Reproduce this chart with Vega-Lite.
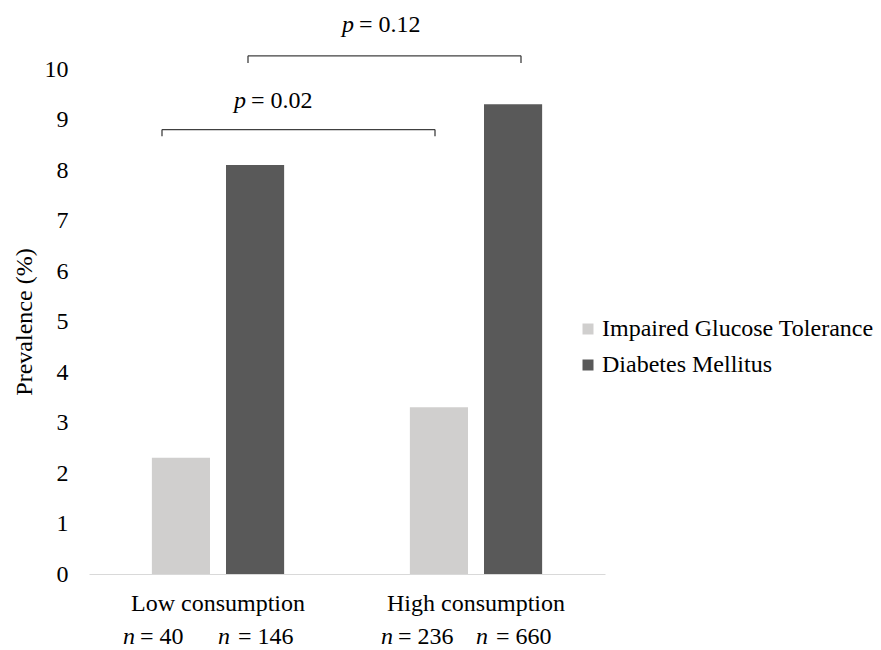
{
  "$schema": "https://vega.github.io/schema/vega-lite/v6.json",
  "autosize": {"type": "none"},
  "padding": {"left": 89, "top": 69, "right": 276, "bottom": 76},
  "width": 516,
  "height": 505,
  "background": "white",
  "config": {
    "view": {"stroke": null},
    "font": "Liberation Serif",
    "text": {"font": "Liberation Serif", "fontSize": 24, "color": "#000000"},
    "axis": {"labelFont": "Liberation Serif", "titleFont": "Liberation Serif", "labelColor": "#000000", "titleColor": "#000000"},
    "legend": {"labelFont": "Liberation Serif"}
  },
  "datasets": {
    "bars": [
      {"group": "Low consumption", "series": "Impaired Glucose Tolerance", "value": 2.3, "n_label": "= 40"},
      {"group": "Low consumption", "series": "Diabetes Mellitus", "value": 8.1, "n_label": "= 146"},
      {"group": "High consumption", "series": "Impaired Glucose Tolerance", "value": 3.3, "n_label": "= 236"},
      {"group": "High consumption", "series": "Diabetes Mellitus", "value": 9.3, "n_label": "= 660"}
    ],
    "brackets": [
      {"id": 1, "from": "Low consumption", "to": "High consumption", "level": 8.8, "tick_end": 8.67, "p_label": "= 0.02", "p_y": 9.23},
      {"id": 2, "from": "Low consumption", "to": "High consumption", "level": 10.26, "tick_end": 10.12, "p_label": "= 0.12", "p_y": 10.74}
    ]
  },
  "encoding": {
    "x": {
      "field": "group", "type": "nominal",
      "scale": {"domain": ["Low consumption", "High consumption"], "paddingInner": 0, "paddingOuter": 0},
      "axis": {"title": null, "labelAngle": 0, "labelFontSize": 24, "labelPadding": 17, "ticks": false, "domainColor": "#d9d9d9", "domainWidth": 1.2, "grid": false}
    }
  },
  "layer": [
    {
      "data": {"name": "bars"},
      "mark": {"type": "bar"},
      "encoding": {
        "xOffset": {"field": "series", "type": "nominal", "scale": {"domain": ["Impaired Glucose Tolerance", "Diabetes Mellitus"], "paddingInner": 0.216, "paddingOuter": 0.848}},
        "y": {
          "field": "value", "type": "quantitative",
          "scale": {"domain": [0, 10], "nice": false},
          "axis": {"title": "Prevalence (%)", "titleFontSize": 24, "titleFontWeight": "normal", "titlePadding": 8, "values": [0,1,2,3,4,5,6,7,8,9,10], "labelFontSize": 24, "labelPadding": 21, "ticks": false, "domain": false, "grid": false}
        },
        "color": {
          "field": "series", "type": "nominal",
          "scale": {"domain": ["Impaired Glucose Tolerance", "Diabetes Mellitus"], "range": ["#d0cfce", "#595959"]},
          "legend": {"title": null, "orient": "none", "legendX": 487, "legendY": 248, "symbolType": "square", "symbolSize": 121, "symbolStrokeWidth": 0, "labelFontSize": 24, "labelColor": "#000000", "labelOffset": 2, "rowPadding": 12, "padding": 0, "labelLimit": 400}
        }
      }
    },
    {
      "data": {"name": "bars"},
      "transform": [{"filter": "datum.series === 'Impaired Glucose Tolerance'"}],
      "mark": {"type": "text", "fontStyle": "italic", "align": "right", "baseline": "alphabetic", "dx": -46},
      "encoding": {
        "xOffset": {"field": "series", "type": "nominal"},
        "y": {"datum": -1.39},
        "text": {"value": "n"}
      }
    },
    {
      "data": {"name": "bars"},
      "transform": [{"filter": "datum.series === 'Impaired Glucose Tolerance'"}],
      "mark": {"type": "text", "align": "left", "baseline": "alphabetic", "dx": -41},
      "encoding": {
        "xOffset": {"field": "series", "type": "nominal"},
        "y": {"datum": -1.39},
        "text": {"field": "n_label"}
      }
    },
    {
      "data": {"name": "bars"},
      "transform": [{"filter": "datum.series === 'Diabetes Mellitus'"}],
      "mark": {"type": "text", "fontStyle": "italic", "align": "right", "baseline": "alphabetic", "dx": -25},
      "encoding": {
        "xOffset": {"field": "series", "type": "nominal"},
        "y": {"datum": -1.39},
        "text": {"value": "n"}
      }
    },
    {
      "data": {"name": "bars"},
      "transform": [{"filter": "datum.series === 'Diabetes Mellitus'"}],
      "mark": {"type": "text", "align": "left", "baseline": "alphabetic", "dx": -17},
      "encoding": {
        "xOffset": {"field": "series", "type": "nominal"},
        "y": {"datum": -1.39},
        "text": {"field": "n_label"}
      }
    },
    {
      "data": {"name": "brackets"},
      "transform": [{"filter": "datum.id === 1"}],
      "mark": {"type": "rule", "color": "#404040", "strokeWidth": 1.3, "xOffset": -56, "x2Offset": -41},
      "encoding": {"x": {"field": "from", "type": "nominal"}, "x2": {"field": "to"}, "y": {"field": "level", "type": "quantitative"}}
    },
    {
      "data": {"name": "brackets"},
      "transform": [{"filter": "datum.id === 1"}],
      "mark": {"type": "rule", "color": "#404040", "strokeWidth": 1.3, "xOffset": -56},
      "encoding": {"x": {"field": "from", "type": "nominal"}, "y": {"field": "level", "type": "quantitative"}, "y2": {"field": "tick_end"}}
    },
    {
      "data": {"name": "brackets"},
      "transform": [{"filter": "datum.id === 1"}],
      "mark": {"type": "rule", "color": "#404040", "strokeWidth": 1.3, "xOffset": -41},
      "encoding": {"x": {"field": "to", "type": "nominal"}, "y": {"field": "level", "type": "quantitative"}, "y2": {"field": "tick_end"}}
    },
    {
      "data": {"name": "brackets"},
      "transform": [{"filter": "datum.id === 2"}],
      "mark": {"type": "rule", "color": "#404040", "strokeWidth": 1.3, "xOffset": 30, "x2Offset": 45},
      "encoding": {"x": {"field": "from", "type": "nominal"}, "x2": {"field": "to"}, "y": {"field": "level", "type": "quantitative"}}
    },
    {
      "data": {"name": "brackets"},
      "transform": [{"filter": "datum.id === 2"}],
      "mark": {"type": "rule", "color": "#404040", "strokeWidth": 1.3, "xOffset": 30},
      "encoding": {"x": {"field": "from", "type": "nominal"}, "y": {"field": "level", "type": "quantitative"}, "y2": {"field": "tick_end"}}
    },
    {
      "data": {"name": "brackets"},
      "transform": [{"filter": "datum.id === 2"}],
      "mark": {"type": "rule", "color": "#404040", "strokeWidth": 1.3, "xOffset": 45},
      "encoding": {"x": {"field": "to", "type": "nominal"}, "y": {"field": "level", "type": "quantitative"}, "y2": {"field": "tick_end"}}
    },
    {
      "data": {"name": "brackets"},
      "transform": [{"filter": "datum.id === 1"}],
      "mark": {"type": "text", "fontStyle": "italic", "align": "right", "baseline": "alphabetic", "dx": 28},
      "encoding": {"x": {"field": "from", "type": "nominal"}, "y": {"field": "p_y", "type": "quantitative"}, "text": {"value": "p"}}
    },
    {
      "data": {"name": "brackets"},
      "transform": [{"filter": "datum.id === 1"}],
      "mark": {"type": "text", "align": "left", "baseline": "alphabetic", "dx": 33},
      "encoding": {"x": {"field": "from", "type": "nominal"}, "y": {"field": "p_y", "type": "quantitative"}, "text": {"field": "p_label"}}
    },
    {
      "data": {"name": "brackets"},
      "transform": [{"filter": "datum.id === 2"}],
      "mark": {"type": "text", "fontStyle": "italic", "align": "right", "baseline": "alphabetic", "dx": 136},
      "encoding": {"x": {"field": "from", "type": "nominal"}, "y": {"field": "p_y", "type": "quantitative"}, "text": {"value": "p"}}
    },
    {
      "data": {"name": "brackets"},
      "transform": [{"filter": "datum.id === 2"}],
      "mark": {"type": "text", "align": "left", "baseline": "alphabetic", "dx": 141},
      "encoding": {"x": {"field": "from", "type": "nominal"}, "y": {"field": "p_y", "type": "quantitative"}, "text": {"field": "p_label"}}
    }
  ]
}
